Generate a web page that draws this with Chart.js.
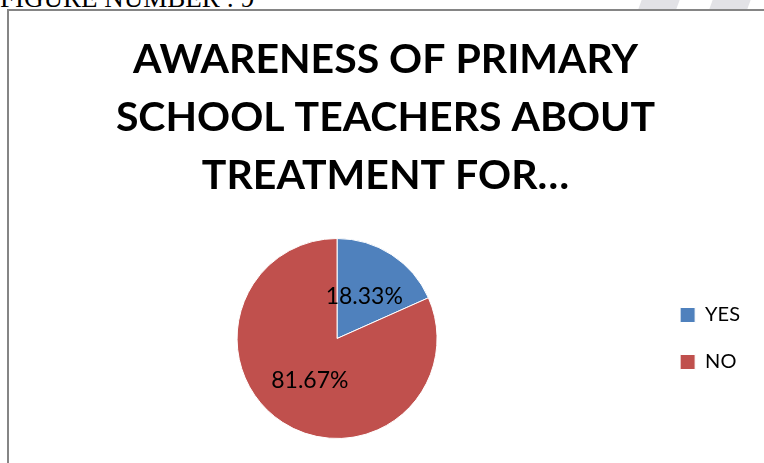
<!DOCTYPE html>
<html>
<head>
<meta charset="utf-8">
<script src="https://cdn.jsdelivr.net/npm/chart.js@4/dist/chart.umd.min.js"></script>
<style>
  html, body { margin: 0; padding: 0; background: #fff; }
  body { width: 764px; height: 463px; overflow: hidden; position: relative; }
  .caption {
    position: absolute; left: 0; top: -17px; line-height: normal;
    font: 27px "Liberation Serif", "Times New Roman", serif; color: #000;
    white-space: nowrap;
  }
  .stripe {
    position: absolute; top: 0; height: 9px; background: #e2e2e6;
    transform: skewX(-20deg);
  }
  .frame {
    position: absolute; left: 7px; top: 9px; width: 800px; height: 500px;
    border-left: 2px solid #858585; border-top: 2px solid #858585;
    box-sizing: border-box;
  }
  .chart-box { position: absolute; left: 11px; top: 13px; width: 756px; height: 470px; }
</style>
</head>
<body>
<div class="caption">FIGURE NUMBER : 9</div>
<div class="stripe" style="left:640px;width:38px;"></div>
<div class="stripe" style="left:711px;width:38px;"></div>
<div class="frame"></div>
<div class="chart-box"><canvas id="chart"></canvas></div>
<script>
// Survey answers and their shares (percent)
const categories = ['YES', 'NO'];
const shares = [18.33, 81.67];
const sliceColors = ['#4F81BD', '#C0504D'];
const titleLines = ['AWARENESS OF PRIMARY', 'SCHOOL TEACHERS ABOUT', 'TREATMENT FOR…'];

// Writes each slice's percentage halfway out along its mid-angle
const sliceLabels = {
  id: 'sliceLabels',
  afterDatasetsDraw(chart) {
    const ctx = chart.ctx;
    const meta = chart.getDatasetMeta(0);
    ctx.save();
    ctx.font = '23px Lato, "Open Sans", sans-serif';
    ctx.fillStyle = '#000';
    ctx.textAlign = 'center';
    ctx.textBaseline = 'middle';
    meta.data.forEach((arc, i) => {
      const p = arc.tooltipPosition();
      ctx.fillText(shares[i].toFixed(2) + '%', p.x, p.y);
    });
    ctx.restore();
  }
};

new Chart(document.getElementById('chart'), {
  type: 'pie',
  data: {
    labels: categories,
    datasets: [{
      data: shares,
      backgroundColor: sliceColors,
      borderColor: '#ffffff',
      borderWidth: 1,
      radius: 100
    }]
  },
  options: {
    responsive: true,
    maintainAspectRatio: false,
    animation: false,
    layout: { padding: { left: 10, right: 17, top: 0, bottom: 21 } },
    plugins: {
      title: {
        display: true,
        text: titleLines,
        color: '#000',
        font: { family: 'Lato', weight: 'bold', size: 41, lineHeight: 58 / 41 },
        padding: { top: 18, bottom: 10 }
      },
      legend: {
        position: 'right',
        fullSize: false,
        labels: {
          color: '#000',
          boxWidth: 15,
          boxHeight: 15,
          padding: 27,
          font: { family: 'Lato', size: 20 }
        }
      },
      tooltip: { enabled: false }
    }
  },
  plugins: [sliceLabels]
});
</script>
</body>
</html>
